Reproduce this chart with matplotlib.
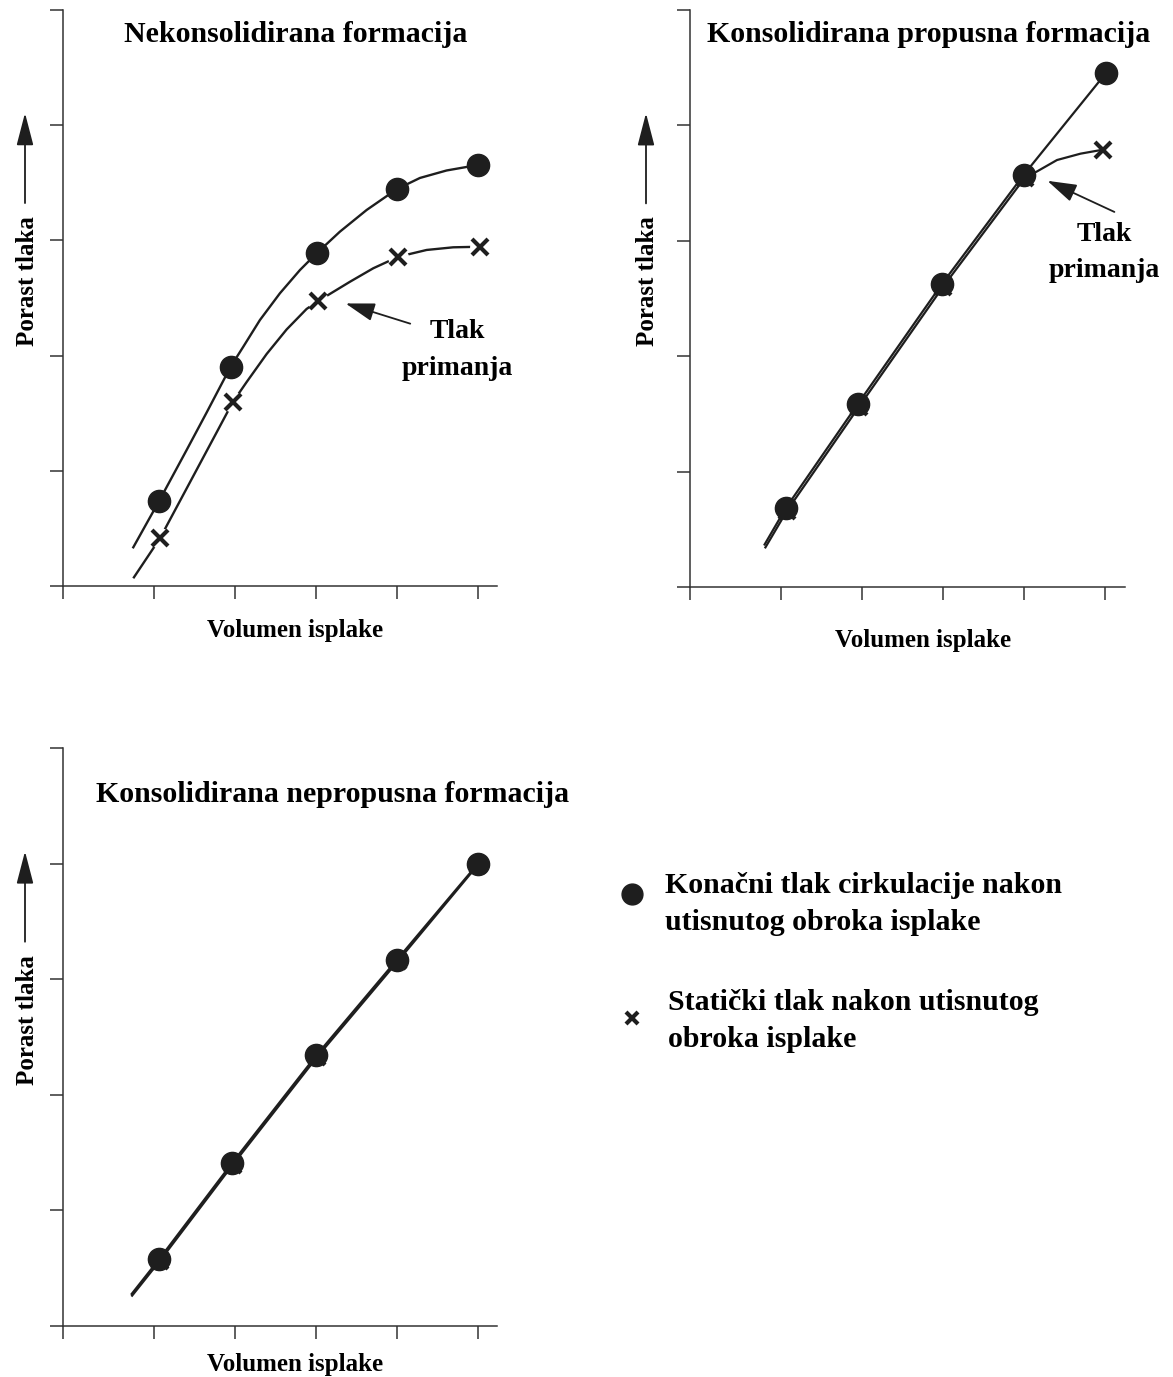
import matplotlib
matplotlib.use('Agg')
import matplotlib.pyplot as plt

plt.rcParams['font.family'] = ['Liberation Serif', 'DejaVu Serif']
plt.rcParams['font.weight'] = 'bold'

# vrijednosti ocitane sa slike (x = volumen isplake, y = porast tlaka)
# 1) Nekonsolidirana formacija
nek_krug_x = [1.059, 1.942, 3.005, 3.994, 5.002]
nek_krug_y = [0.740, 1.904, 2.888, 3.444, 3.655]
nek_kriz_x = [1.068, 1.967, 3.025, 4.014, 5.024]
nek_kriz_y = [0.414, 1.595, 2.474, 2.858, 2.945]
# tocke po krivuljama
nek_krug_lin_x = [0.731, 1.059, 1.398, 1.645, 1.942, 2.098, 2.304, 2.551, 2.799,
                  3.005, 3.293, 3.623, 3.994, 4.282, 4.612, 5.002]
nek_krug_lin_y = [0.327, 0.740, 1.181, 1.506, 1.904, 2.077, 2.309, 2.541, 2.743,
                  2.888, 3.076, 3.264, 3.444, 3.542, 3.607, 3.655]
nek_kriz_lin_x = [0.738, 1.068, 1.398, 1.769, 1.967, 2.140, 2.387, 2.634, 2.881,
                  3.025, 3.417, 3.705, 4.014, 4.365, 4.693, 5.024]
nek_kriz_lin_y = [0.067, 0.414, 0.847, 1.334, 1.595, 1.771, 2.014, 2.227, 2.405,
                  2.474, 2.641, 2.758, 2.858, 2.917, 2.940, 2.945]

# 2) Konsolidirana propusna formacija
prop_krug_x = [1.06, 1.95, 2.99, 4.0, 5.02]
prop_krug_y = [0.685, 1.587, 2.628, 3.573, 4.458]
prop_kriz_x = [1.072, 1.962, 3.002, 4.012, 4.98]
prop_kriz_y = [0.659, 1.561, 2.602, 3.547, 3.79]
prop_krug_lin_x = [0.79] + prop_krug_x
prop_krug_lin_y = [0.36] + prop_krug_y
prop_kriz_lin_x = [0.80, 1.072, 1.962, 3.002, 4.012, 4.16, 4.41, 4.70, 4.98]
prop_kriz_lin_y = [0.335, 0.659, 1.561, 2.602, 3.547, 3.60, 3.70, 3.755, 3.79]

# 3) Konsolidirana nepropusna formacija
neprop_krug_x = [1.06, 1.96, 3.0, 4.0, 5.0]
neprop_krug_y = [0.58, 1.41, 2.34, 3.17, 4.0]
neprop_kriz_x = [1.068, 1.968, 3.008, 4.008, 5.0]
neprop_kriz_y = [0.565, 1.395, 2.325, 3.155, 3.99]
neprop_krug_lin_x = [0.71] + neprop_krug_x
neprop_krug_lin_y = [0.27] + neprop_krug_y
neprop_kriz_lin_x = [0.715] + neprop_kriz_x
neprop_kriz_lin_y = [0.255] + neprop_kriz_y

naslovi = ['Nekonsolidirana formacija', 'Konsolidirana propusna formacija',
           'Konsolidirana nepropusna formacija']
leg_krug = 'Konačni tlak cirkulacije nakon\nutisnutog obroka isplake'
leg_kriz = 'Statički tlak nakon utisnutog\nobroka isplake'

C = '#1e1e1e'
W, H = 1173, 1377
fig = plt.figure(figsize=(W / 100, H / 100), dpi=100)


def osi(rect, xlim, naslov, tpos, xl_dy, yl_dx):
    ax = fig.add_axes([rect[0] / W, 1 - rect[3] / H, (rect[1] - rect[0]) / W, (rect[3] - rect[2]) / H])
    ax.set_xlim(xlim)
    ax.set_ylim(0, 5)
    ax.set_xticks([xlim[0], 1, 2, 3, 4, 5])
    ax.set_yticks(range(6))
    ax.tick_params(direction='out', length=9.5, width=1.1, color='#333333',
                   labelbottom=False, labelleft=False)
    for s in ['top', 'right']:
        ax.spines[s].set_visible(False)
    for s in ['left', 'bottom']:
        ax.spines[s].set_linewidth(1.1)
        ax.spines[s].set_color('#333333')
    wpx = rect[1] - rect[0]
    hpx = rect[3] - rect[2]
    ax.text(tpos[0], tpos[1], naslov, transform=ax.transAxes, ha='center', va='center',
            fontsize=21.5, color='black')
    ax.text(0.535, -xl_dy / hpx, 'Volumen isplake', transform=ax.transAxes,
            ha='center', va='center', fontsize=18, color='black')
    ax.text(-yl_dx / wpx, 0.53, 'Porast tlaka', transform=ax.transAxes, rotation=90,
            ha='center', va='center', fontsize=18, color='black')
    ax.annotate('', xy=(-(yl_dx + 2) / wpx, 0.826), xytext=(-(yl_dx + 2) / wpx, 0.66),
                xycoords='axes fraction',
                arrowprops=dict(arrowstyle='-|>,head_length=1.0,head_width=0.26',
                                mutation_scale=20, lw=1.3, color=C))
    return ax


ax1 = osi((63, 497, 10, 586), (-0.131, 5.235), naslovi[0], (0.537, 0.958), 45, 36)
ax2 = osi((690, 1125, 10, 587), (-0.125, 5.25), naslovi[1], (0.548, 0.958), 53, 42)
ax3 = osi((63, 497, 748, 1326), (-0.131, 5.235), naslovi[2], (0.62, 0.92), 38, 36)

# panel 1
ax1.plot(nek_krug_lin_x, nek_krug_lin_y, color=C, lw=1.7, solid_capstyle='butt', zorder=2)
ax1.plot(nek_kriz_lin_x, nek_kriz_lin_y, color=C, lw=1.7, solid_capstyle='butt', zorder=2)
ax1.plot(nek_kriz_x, nek_kriz_y, 'o', color='white', ms=14, zorder=3)
ax1.plot(nek_kriz_x, nek_kriz_y, 'x', color=C, ms=11, mew=3, zorder=4)
ax1.plot(nek_krug_x, nek_krug_y, 'o', color=C, ms=16, zorder=5)
ax1.annotate('', xy=(3.33, 2.46), xytext=(4.195, 2.27),
             arrowprops=dict(arrowstyle='-|>,head_length=0.9,head_width=0.28',
                             mutation_scale=20, lw=1.3, color=C))
ax1.text(4.74, 2.05, 'Tlak\nprimanja', ha='center', va='center', fontsize=20,
         linespacing=1.6, color='black')

# panel 2
ax2.plot(prop_krug_lin_x, prop_krug_lin_y, color=C, lw=1.6, solid_capstyle='butt', zorder=2)
ax2.plot(prop_kriz_lin_x, prop_kriz_lin_y, color=C, lw=1.6, solid_capstyle='butt', zorder=2)
ax2.plot(prop_kriz_x, prop_kriz_y, 'x', color=C, ms=11, mew=3, zorder=4)
ax2.plot(prop_krug_x, prop_krug_y, 'o', color=C, ms=16, zorder=5)
ax2.annotate('', xy=(4.26, 3.53), xytext=(5.15, 3.24),
             arrowprops=dict(arrowstyle='-|>,head_length=0.9,head_width=0.28',
                             mutation_scale=20, lw=1.3, color=C), annotation_clip=False)
ax2.text(4.99, 2.90, 'Tlak\nprimanja', ha='center', va='center', fontsize=20,
         linespacing=1.6, color='black')

# panel 3
ax3.plot(neprop_krug_lin_x, neprop_krug_lin_y, color=C, lw=1.6, solid_capstyle='butt', zorder=2)
ax3.plot(neprop_kriz_lin_x, neprop_kriz_lin_y, color=C, lw=1.6, solid_capstyle='butt', zorder=2)
ax3.plot(neprop_kriz_x, neprop_kriz_y, 'x', color=C, ms=11, mew=3, zorder=4)
ax3.plot(neprop_krug_x, neprop_krug_y, 'o', color=C, ms=16, zorder=5)

# legenda (u pikselima slike)
axl = fig.add_axes([0, 0, 1, 1])
axl.set_xlim(0, W)
axl.set_ylim(H, 0)
axl.axis('off')
axl.plot([632], [894], 'o', color=C, ms=15)
axl.plot([632], [1018], 'x', color=C, ms=9, mew=3)
axl.text(665, 904, leg_krug, ha='left', va='center', fontsize=21.5, linespacing=1.45, color='black')
axl.text(668, 1021, leg_kriz, ha='left', va='center', fontsize=21.5, linespacing=1.5, color='black')

fig.savefig('out.png', dpi=100)
